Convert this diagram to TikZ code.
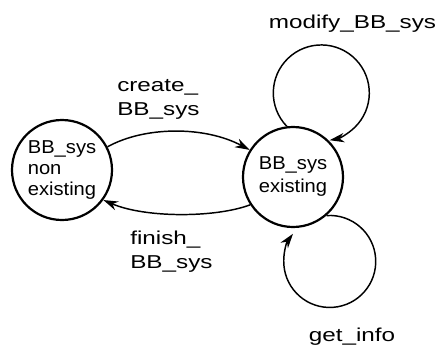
\documentclass[tikz,border=0pt]{standalone}
\usepackage{fontspec}
\setmainfont{Liberation Sans}
\newfontfamily\statefont{Liberation Sans}[FakeStretch=1.08]
\newfontfamily\labelfont{Liberation Sans}[FakeStretch=1.3]
\usetikzlibrary{arrows.meta}

\begin{document}
\begin{tikzpicture}[x=0.75pt,y=0.75pt,
  state/.style={circle,draw,line width=1.65pt,minimum size=75pt,inner sep=0pt},
  trans/.style={line width=1.1pt,-{Stealth[length=11pt,width=7pt,inset=3.5pt]}},
  lbl/.style={inner sep=0pt,font=\labelfont\fontsize{14}{18}\selectfont}]
\useasboundingbox (0,0) rectangle (436,-347);

% the two states
\node[state,align=left,font=\statefont\fontsize{14}{15.75}\selectfont]
  (L) at (62,-170) {BB\_sys\\non\\existing};
\node[state,align=center,font=\statefont\fontsize{14}{17.25}\selectfont]
  (R) at (293,-177) {BB\_sys\\existing};

% transitions between the states
\draw[trans] (L.27) .. controls (145,-126) and (205,-126) .. (R.148);
\draw[trans] (R.213) .. controls (215,-218) and (145,-218) .. (L.324);

% self loops
\draw[trans] (R.97) arc[start angle=224,end angle=-80,radius=48];
\draw[trans] (R.311) arc[start angle=94,end angle=-217,radius=46];

% transition labels (base anchor sits on the last line)
\node[lbl,align=left,anchor=base west] (lc) at (117,-115) {create\_\\BB\_sys};
\node[lbl,align=left,anchor=base west] (lf) at (130,-268) {finish\_\\BB\_sys};
\node[lbl,anchor=base] (lm) at (352.5,-28) {modify\_BB\_sys};
\node[lbl,anchor=base] (lg) at (352,-341) {get\_info};
\end{tikzpicture}
\end{document}
